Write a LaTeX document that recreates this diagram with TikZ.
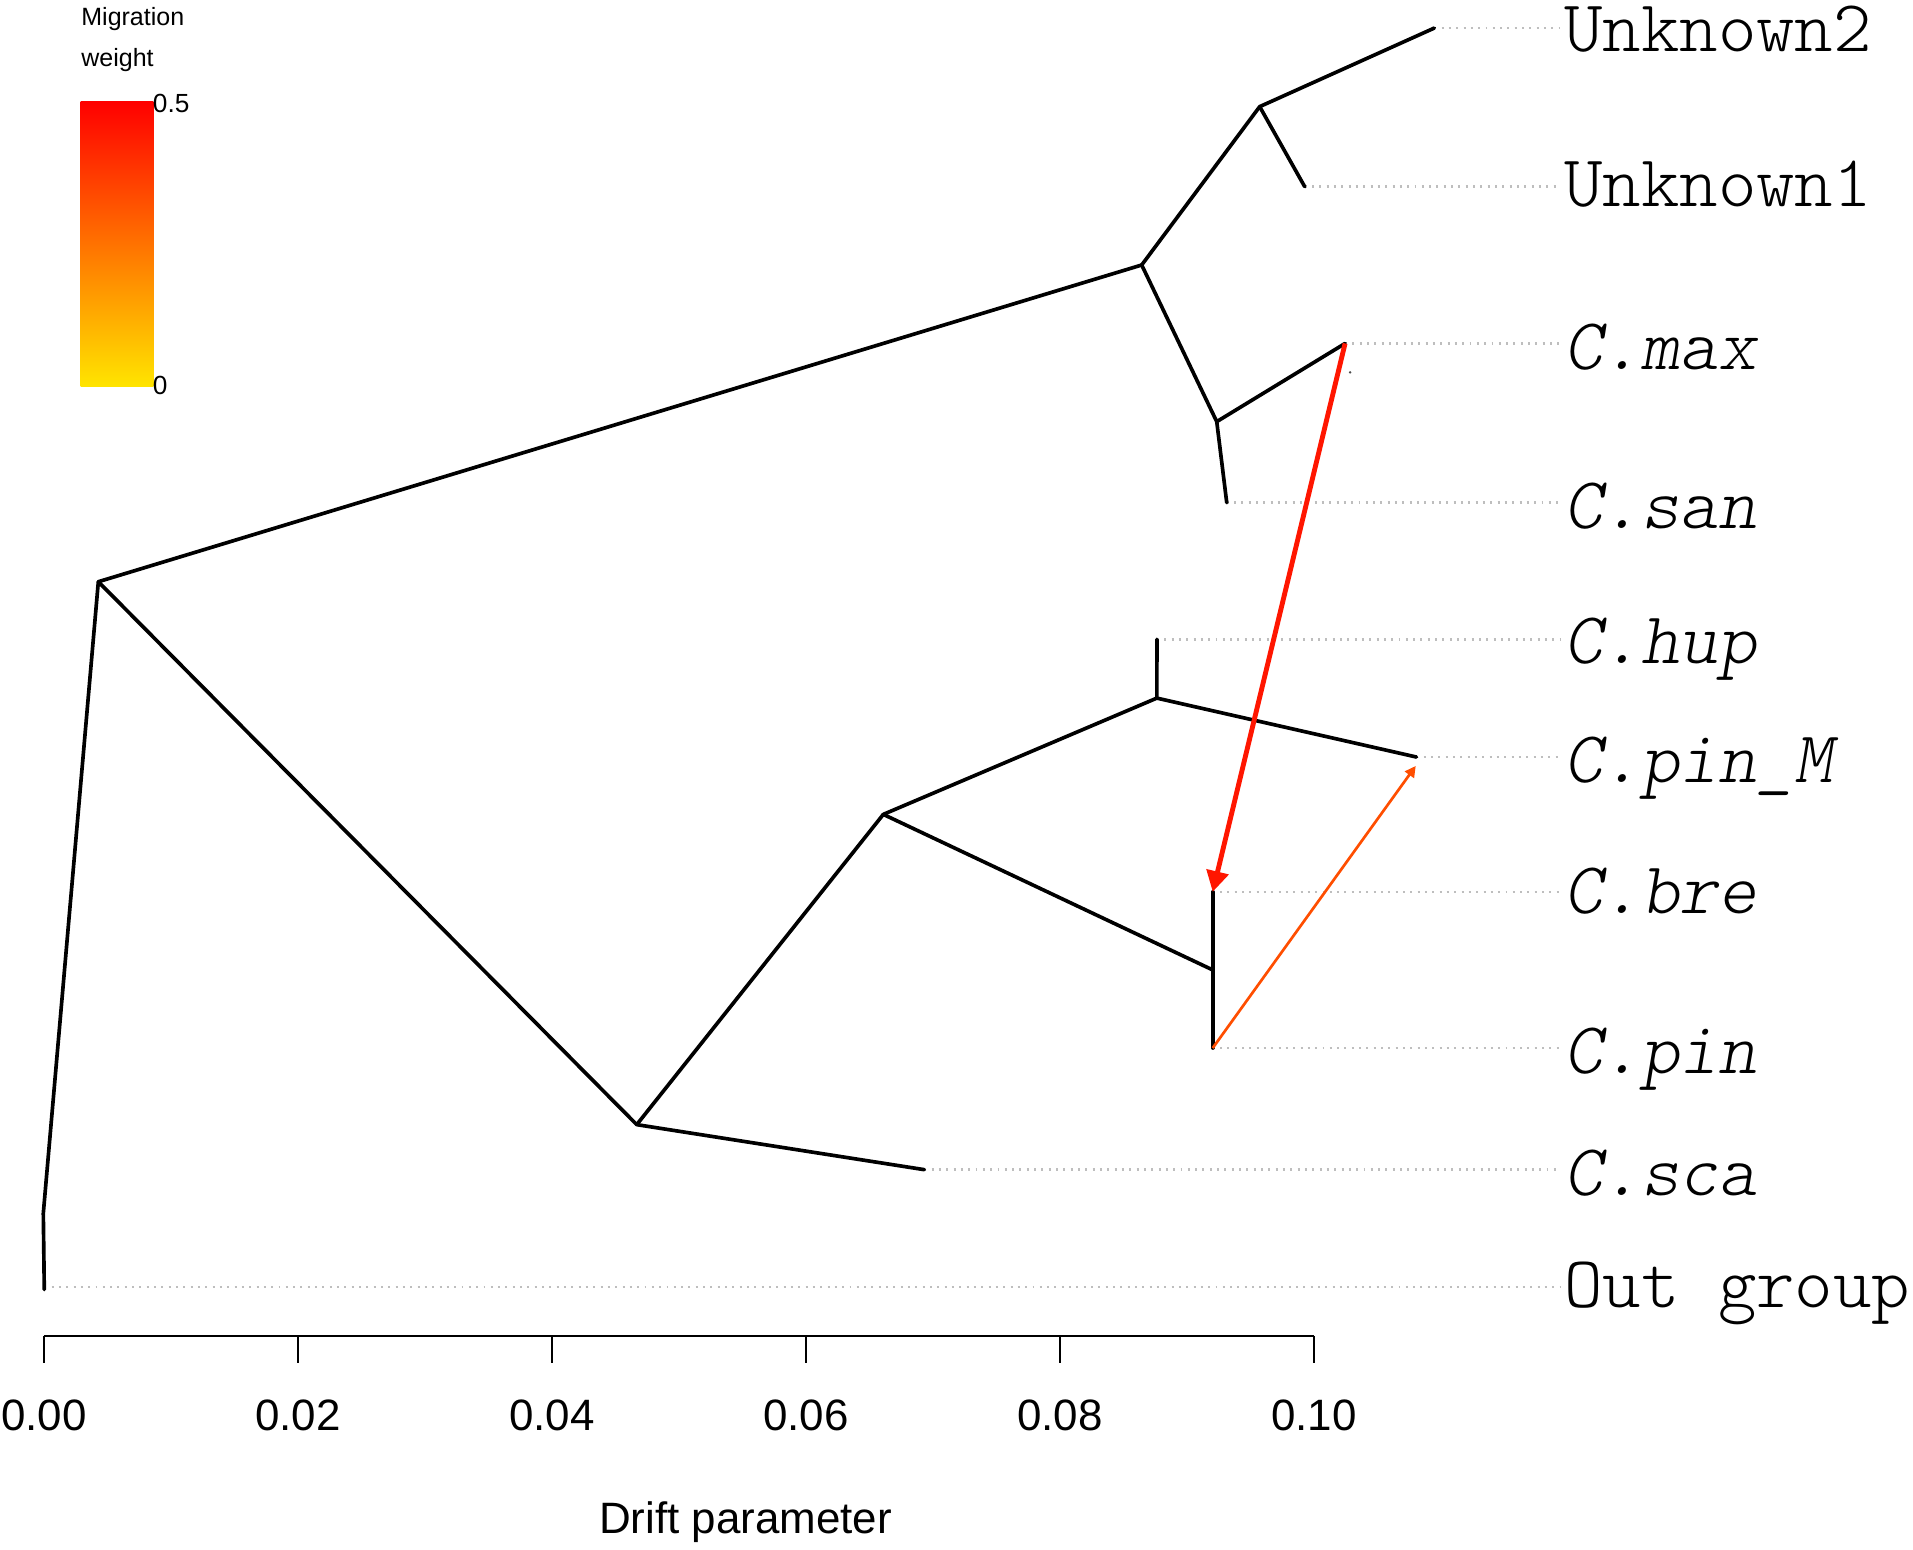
\documentclass[tikz,border=0pt]{standalone}
\usepackage{fontspec}
\newfontfamily\arial{Liberation Sans}
\newfontfamily\labfont{lmmonolt10-regular.otf}[ItalicFont=lmmonolt10-oblique.otf]
\usetikzlibrary{arrows.meta}
\definecolor{migred}{RGB}{255,22,0}
\definecolor{migorange}{RGB}{255,78,0}
\definecolor{legyellow}{RGB}{255,228,0}
\definecolor{dotgray}{RGB}{190,190,190}
\begin{document}
\begin{tikzpicture}[x=1pt,y=-1pt,
  branch/.style={line width=3pt,line cap=round,line join=round,black},
  dotl/.style={dotgray,line width=2pt,dash pattern=on 1.6pt off 4.4pt},
  lab/.style={font=\labfont\fontsize{60}{60}\selectfont,inner sep=0pt,inner xsep=3pt,anchor=base west},
  labi/.style={lab,font=\labfont\itshape\fontsize{60}{60}\selectfont},
  ticklab/.style={font=\arial\fontsize{36}{36}\selectfont,inner sep=0pt},
  legtxt/.style={font=\arial\fontsize{20.5}{20.5}\selectfont,inner sep=0pt,anchor=base west},
  mig1/.style={migred,line width=4pt,-{Triangle[length=17pt,width=18pt]}},
  mig2/.style={migorange,line width=2.2pt,-{Triangle[length=9pt,width=9pt]}}]
\useasboundingbox (0,0) rectangle (1568,1270);
\fill[white] (0,0) rectangle (1568,1270);

% tree coordinates
\coordinate (tout) at (36.3,1057);
\coordinate (R) at (35.5,994.5);
\coordinate (A) at (80.6,476.8);
\coordinate (B) at (935.8,217.2);
\coordinate (C) at (521.9,921.8);
\coordinate (D) at (1032.5,87.4);
\coordinate (E) at (997.3,345.6);
\coordinate (F) at (724,667.5);
\coordinate (G) at (948.2,572.2);
\coordinate (H) at (994,795);
\coordinate (tU2) at (1175.6,23);
\coordinate (tU1) at (1069.4,153);
\coordinate (tmax) at (1102.5,281.5);
\coordinate (tsan) at (1005.5,412);
\coordinate (thup) at (948.3,524);
\coordinate (tpinM) at (1161,620.5);
\coordinate (tpinMa) at (1160.4,627.8);
\coordinate (tbre) at (994,731);
\coordinate (tpin) at (994,859);
\coordinate (tsca) at (757.6,958.7);
\coordinate (tdot) at (1106.6,305.2);

% labels
\node[lab]  (lU2)  at (1279,42)   {Unknown2};
\node[lab]  (lU1)  at (1279,169)  {Unknown1};
\node[labi] (lmax) at (1279,303)  {C.max};
\node[labi] (lsan) at (1279,433)  {C.san};
\node[labi] (lhup) at (1279,544)  {C.hup};
\node[labi] (lpinM) at (1279,641) {C.pin\_M};
\node[labi] (lbre) at (1279,749)  {C.bre};
\node[labi] (lpin) at (1279,880)  {C.pin};
\node[labi] (lsca) at (1279,980)  {C.sca};
\node[lab]  (lout) at (1279,1072) {Out group};

% dotted leader lines
\draw[dotl] (tU2) -- (tU2 -| lU2.west);
\draw[dotl] (tU1) -- (tU1 -| lU1.west);
\draw[dotl] (tmax) -- (tmax -| lmax.west);
\draw[dotl] (tsan) -- (tsan -| lsan.west);
\draw[dotl] (thup) -- (thup -| lhup.west);
\draw[dotl] (tpinM) -- (tpinM -| lpinM.west);
\draw[dotl] (tbre) -- (tbre -| lbre.west);
\draw[dotl] (tpin) -- (tpin -| lpin.west);
\draw[dotl] (tsca) -- (tsca -| lsca.west);
\draw[dotl] ([yshift=2pt]tout) -- ([yshift=2pt]tout -| lout.west);

% branches
\draw[branch] (tout) -- (R) -- (A);
\draw[branch] (A) -- (B);
\draw[branch] (A) -- (C);
\draw[branch] (B) -- (D);
\draw[branch] (B) -- (E);
\draw[branch] (D) -- (tU2);
\draw[branch] (D) -- (tU1);
\draw[branch] (E) -- (tmax);
\draw[branch] (E) -- (tsan);
\draw[branch] (C) -- (F);
\draw[branch] (C) -- (tsca);
\draw[branch] (F) -- (G);
\draw[branch] (F) -- (H);
\draw[branch] (G) -- (thup);
\draw[branch] (G) -- (tpinM);
\draw[branch] (H) -- (tbre);
\draw[branch] (H) -- (tpin);
\fill[black!70] (tdot) circle (1.1pt);

% migration edges
\draw[mig1] (tmax) -- (tbre);
\draw[mig2] (tpin) -- (tpinMa);

% axis
\foreach \i/\t in {0/0.00,1/0.02,2/0.04,3/0.06,4/0.08,5/0.10}{
  \coordinate (ax\i) at ({36+208.2*\i},1095);
  \coordinate (tk\i) at ({36+208.2*\i},1117.5);
  \draw[line width=1.5pt] (ax\i) -- (tk\i);
  \node[ticklab] (tl\i) at ({36+208.2*\i},1160) {\t};
}
\draw[line width=2.2pt] (ax0) -- (ax5);
\node[ticklab,anchor=base] (xlab) at (611,1257) {Drift parameter};

% legend
\node[legtxt] (lg1) at (66.5,21.3) {Migration};
\node[legtxt] (lg2) at (66.5,54.7) {weight};
\shade[top color=red,bottom color=legyellow] (66.1,83.3) rectangle (125.7,316.4);
\node[legtxt,font=\arial\fontsize{21.5}{21.5}\selectfont] (lg3) at (125.2,92) {0.5};
\node[legtxt,font=\arial\fontsize{21.5}{21.5}\selectfont] (lg4) at (125.2,323.5) {0};
\end{tikzpicture}
\end{document}
